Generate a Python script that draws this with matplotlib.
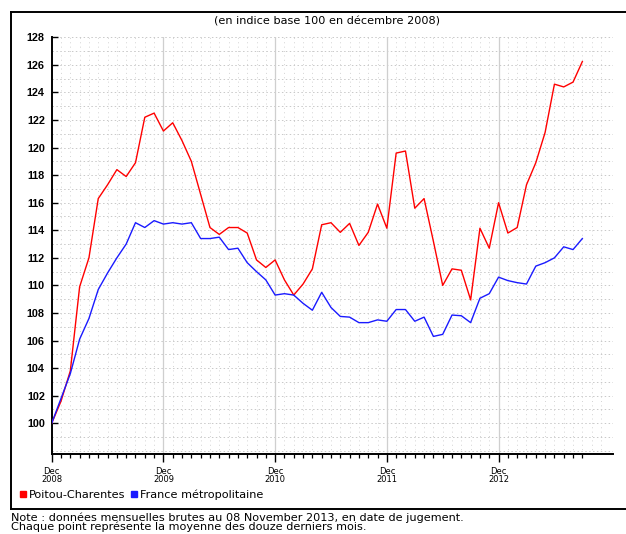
import matplotlib
matplotlib.use("Agg")
import matplotlib.pyplot as plt
from matplotlib.lines import Line2D
import numpy as np

plt.rcParams['font.family'] = ['DejaVu Sans']

# Monthly index values, Dec 2008 (index 0) .. Sep 2013
poitou = [100.0, 101.6, 103.8, 109.9, 112.0, 116.3, 117.3, 118.4, 117.9, 118.9,
          122.2, 122.5, 121.2, 121.8, 120.5, 119.0, 116.6, 114.2, 113.7, 114.2,
          114.2, 113.8, 111.85, 111.3, 111.85, 110.4, 109.3, 110.1, 111.2, 114.4,
          114.55, 113.85, 114.5, 112.9, 113.85, 115.9, 114.15, 119.6, 119.75, 115.6,
          116.3, 113.2, 110.0, 111.2, 111.1, 108.95, 114.15, 112.7, 116.0, 113.8,
          114.2, 117.3, 118.9, 121.1, 124.6, 124.4, 124.75, 126.24]
france = [100.0, 101.8, 103.6, 106.1, 107.6, 109.7, 110.9, 112.0, 113.0, 114.55,
          114.2, 114.7, 114.45, 114.55, 114.45, 114.55, 113.4, 113.4, 113.5, 112.6,
          112.7, 111.65, 111.0, 110.4, 109.3, 109.4, 109.3, 108.7, 108.2, 109.5,
          108.4, 107.75, 107.7, 107.3, 107.3, 107.5, 107.4, 108.25, 108.25, 107.4,
          107.7, 106.3, 106.45, 107.85, 107.8, 107.3, 109.07, 109.4, 110.6, 110.35,
          110.2, 110.1, 111.4, 111.65, 112.0, 112.8, 112.6, 113.4]
year_labels = ["Dec\n2008", "Dec\n2009", "Dec\n2010", "Dec\n2011", "Dec\n2012"]
series_names = ["Poitou-Charentes", "France métropolitaine"]
subtitle = "(en indice base 100 en décembre 2008)"
note_lines = ["Note : données mensuelles brutes au 08 November 2013, en date de jugement.",
              "Chaque point représente la moyenne des douze derniers mois."]

W, H = 626, 534
fig = plt.figure(figsize=(W / 100, H / 100), dpi=100)

def fx(px):
    return px / W

def fy(py):
    return 1 - py / H

ax = fig.add_axes([fx(51.7), fy(454), fx(612.7) - fx(51.7), fy(37.3) - fy(454)])

months = np.arange(len(poitou))
ax.set_xlim(0, 60.26)
ax.set_ylim(97.77, 128)

# grid
for v in range(98, 129):
    ax.axhline(v, color='#c8c8c8', lw=0.7, ls=(0, (1.5, 2.5)), zorder=0)
for m in range(1, 61):
    if m % 12 != 0:
        ax.axvline(m, color='#d4d4d4', lw=0.7, ls=(0, (1, 3.5)), zorder=0)
for m in range(12, 60, 12):
    ax.axvline(m, color='#cfcfcf', lw=0.9, zorder=0)

ax.plot(months, poitou, color='#ff0000', lw=1.0, zorder=3)
ax.plot(months, france, color='#1a1aff', lw=1.0, zorder=3)

for s in ['top', 'right']:
    ax.spines[s].set_visible(False)
for s in ['left', 'bottom']:
    ax.spines[s].set_linewidth(1.4)
    ax.spines[s].set_color('black')

ax.set_yticks(range(100, 129, 2))
ax.set_yticklabels([str(v) for v in range(100, 129, 2)], fontsize=7.8,
                   fontweight='bold', family='Liberation Sans')
ax.tick_params(axis='y', direction='in', length=4, width=1.0, pad=5)

ax.set_xticks(range(0, 49, 12))
ax.set_xticklabels(year_labels, fontsize=6.0, linespacing=1.0)
ax.set_xticks([m for m in range(1, len(poitou)) if m % 12 != 0], minor=True)
ax.tick_params(axis='x', which='major', direction='out', length=5.5, width=1.0, pad=3.5)
ax.tick_params(axis='x', which='minor', direction='out', length=3.2, width=0.9)

# subtitle
fig.text(fx(326.5), fy(22), subtitle, ha='center', va='center', fontsize=8.1)

# legend
handles = [Line2D([], [], marker='s', color='#ff0000', linestyle='None', markersize=4.8),
           Line2D([], [], marker='s', color='#1a1aff', linestyle='None', markersize=4.8)]
fig.legend(handles, series_names, loc='center left', bbox_to_anchor=(fx(17), fy(495)),
           ncol=2, frameon=False, fontsize=8.1, handletextpad=0.05, columnspacing=0.3,
           handlelength=1.0, borderaxespad=0, borderpad=0)

# frame
fr = dict(color='black', lw=1.4, transform=fig.transFigure)
fig.add_artist(Line2D([fx(11), fx(11)], [fy(12.3), fy(509)], **fr))
fig.add_artist(Line2D([fx(11), fx(626)], [fy(12.3), fy(12.3)], **fr))
fig.add_artist(Line2D([fx(11), fx(626)], [fy(509), fy(509)], **fr))

fig.text(fx(11), fy(522), "\n".join(note_lines), ha='left', va='center',
         fontsize=8.1, linespacing=0.88)

fig.savefig("out.png", dpi=100)
